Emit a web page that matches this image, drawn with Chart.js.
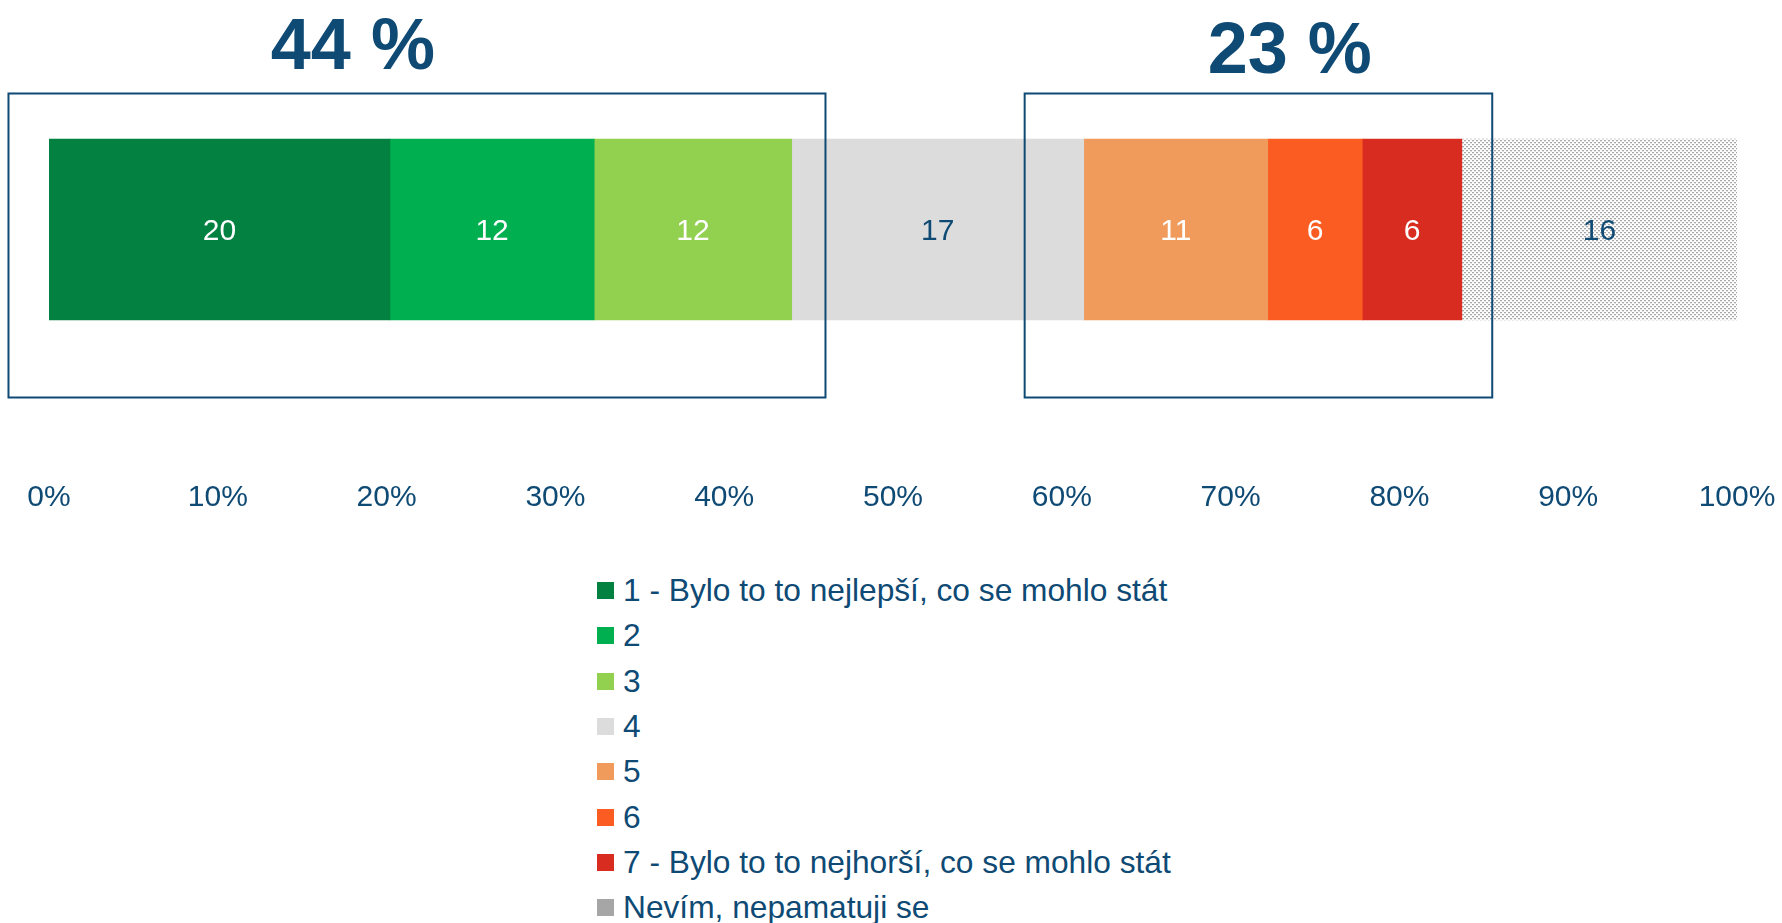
<!DOCTYPE html>
<html>
<head>
<meta charset="utf-8">
<script src="https://cdn.jsdelivr.net/npm/chart.js@4.4.1/dist/chart.umd.min.js"></script>
<style>
  body { margin: 0; background: #fff; }
  #wrap { position: relative; width: 1782px; height: 923px; }
  #chart-box { position: absolute; left: 0; top: 0; width: 1782px; height: 520px; }
  #legend { position: absolute; left: 597px; top: 568px; font-family: 'Liberation Sans', Arial, sans-serif;
            font-size: 31.7px; color: #0E4A74; }
  #legend div { display: flex; align-items: center; height: 45.3px; white-space: nowrap; }
  #legend span.sw { display: inline-block; width: 17px; height: 17px; margin-right: 9px; }
</style>
</head>
<body>
<div id="wrap">
  <div id="chart-box"><canvas id="bar-chart"></canvas></div>
  <div id="legend"></div>
</div>
<script>
const answers = ['1 - Bylo to to nejlepší, co se mohlo stát', '2', '3', '4', '5', '6',
                 '7 - Bylo to to nejhorší, co se mohlo stát', 'Nevím, nepamatuji se']
const shares = [20.2, 12.1, 11.7, 17.3, 10.9, 5.6, 5.9, 16.3]
const groupTotals = ['44 %', '23 %']

const blue = '#0E4A74'

function getColor(i) {
    const colors = ['#038141', '#00B050', '#92D050', '#DCDCDC', '#F09A5B', '#FA5C22', '#D82C20', '#A6A6A6']
    return colors[i]
}

function dotPattern() {
    const c = document.createElement('canvas')
    c.width = 4
    c.height = 4
    const g = c.getContext('2d')
    g.fillStyle = '#ffffff'
    g.fillRect(0, 0, 4, 4)
    g.fillStyle = '#a8a8a8'
    g.fillRect(0, 0, 2, 1)
    g.fillRect(2, 2, 2, 1)
    g.fillStyle = '#e4e4e4'
    g.fillRect(0, 1, 2, 1)
    g.fillRect(2, 3, 2, 1)
    return g.createPattern(c, 'repeat')
}

// value labels, framing boxes and the two big totals
const overlay = {
    id: 'overlay',
    afterDatasetsDraw(chart, args, opts) {
        const ctx = chart.ctx
        const x = chart.scales.x
        ctx.save()
        ctx.font = '30px "Liberation Sans", Arial, sans-serif'
        ctx.textAlign = 'center'
        ctx.textBaseline = 'middle'
        chart.data.datasets.forEach((ds, i) => {
            const bar = chart.getDatasetMeta(i).data[0]
            const p = bar.getCenterPoint()
            ctx.fillStyle = (i === 3 || i === 7) ? blue : '#ffffff'
            ctx.fillText(Math.round(ds.data[0]), p.x, p.y + 2)
        })
        const cy = chart.getDatasetMeta(0).data[0].y
        ctx.strokeStyle = blue
        ctx.lineWidth = 2
        opts.boxes.forEach(b => {
            const l = x.getPixelForValue(b[0])
            const r = x.getPixelForValue(b[1])
            ctx.strokeRect(l, cy - 136, r - l, 304)
        })
        ctx.fillStyle = blue
        ctx.font = 'bold 72px "Liberation Sans", Arial, sans-serif'
        groupTotals.forEach((t, i) => {
            ctx.fillText(t, x.getPixelForValue(opts.centers[i]), opts.tops[i])
        })
        ctx.restore()
    }
}

const chart = new Chart(document.querySelector('#bar-chart').getContext('2d'), {
    type: 'bar',
    data: {
        labels: [''],
        datasets: answers.map((a, i) => ({
            label: a,
            data: [shares[i]],
            backgroundColor: i === 7 ? dotPattern() : getColor(i),
            borderWidth: 0,
            barThickness: 181
        }))
    },
    options: {
        indexAxis: 'y',
        responsive: true,
        maintainAspectRatio: false,
        animation: false,
        layout: { padding: { left: 49, right: 45, top: 59, bottom: 0 } },
        scales: {
            x: {
                stacked: true,
                min: 0,
                max: 100,
                grid: { display: false, drawTicks: true, tickLength: 80 },
                border: { display: false },
                afterFit: s => { s.height = 120 },
                ticks: {
                    stepSize: 10,
                    padding: 0,
                    maxRotation: 0,
                    color: blue,
                    font: { family: '"Liberation Sans", Arial, sans-serif', size: 30 },
                    callback: v => v + '%'
                }
            },
            y: { stacked: true, display: false }
        },
        plugins: {
            legend: { display: false },
            tooltip: { enabled: false },
            overlay: { boxes: [[-2.4, 46], [57.8, 85.5]], centers: [18, 73.5], tops: [49, 53] }
        }
    },
    plugins: [overlay]
})

// legend as a plain list under the chart
const legend = document.querySelector('#legend')
answers.forEach((a, i) => {
    const row = document.createElement('div')
    row.innerHTML = '<span class="sw" style="background:' + getColor(i) + '"></span>' + a
    legend.appendChild(row)
})
</script>
</body>
</html>
